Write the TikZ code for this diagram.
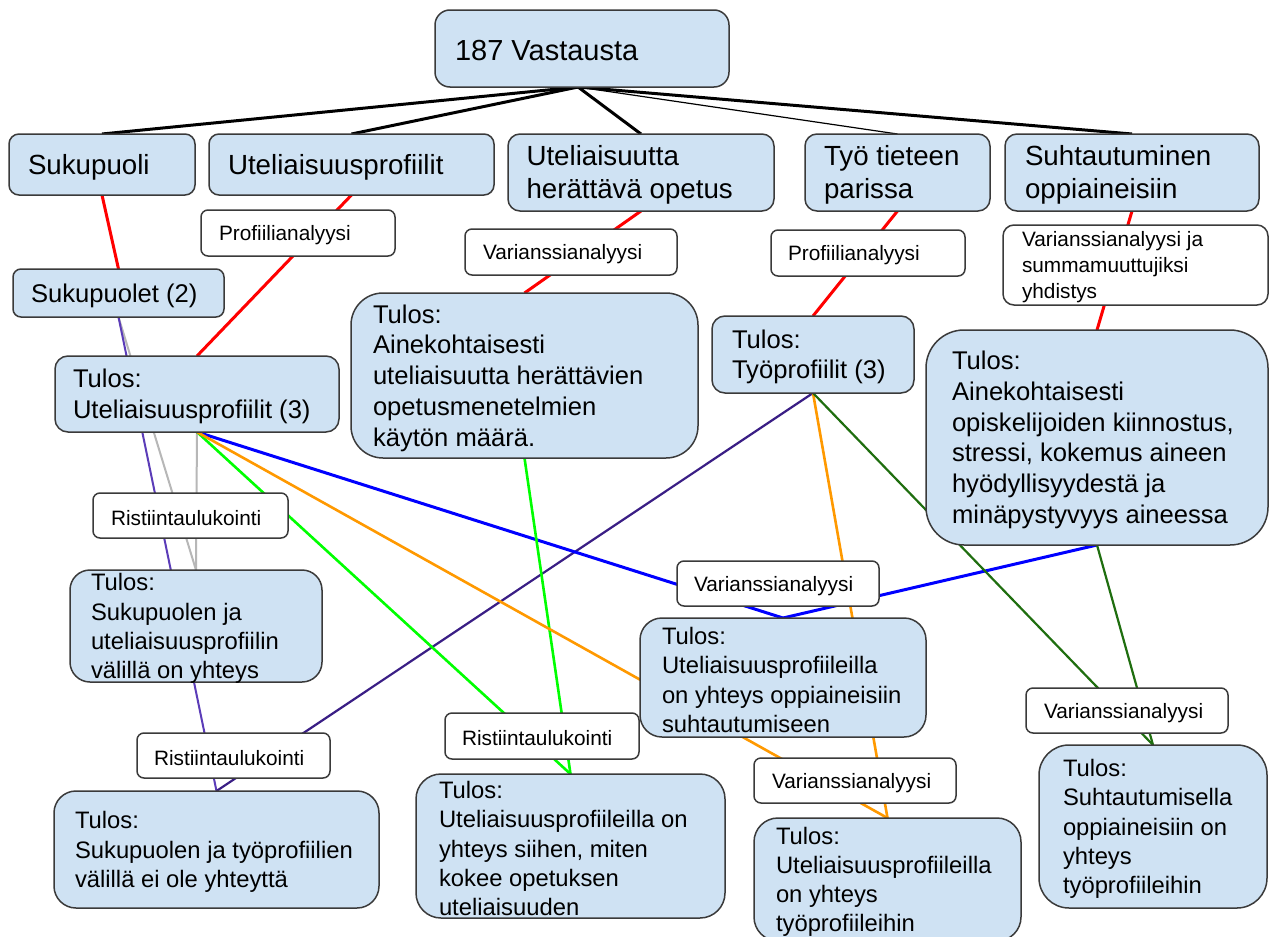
\documentclass[tikz,border=0pt]{standalone}
\usepackage{fontspec}
\setmainfont{Liberation Sans}
\usetikzlibrary{backgrounds}
\definecolor{boxblue}{HTML}{CFE2F3}
\definecolor{boxline}{HTML}{3A3A3A}
\definecolor{lnred}{HTML}{FF0000}
\definecolor{lnblue}{HTML}{0000FF}
\definecolor{lngreen}{HTML}{00FF00}
\definecolor{lnorange}{HTML}{FF9900}
\definecolor{lnpurple}{HTML}{5B3CB8}
\definecolor{lndpurple}{HTML}{3A1E85}
\definecolor{lndgreen}{HTML}{1F6E0F}
\definecolor{lngrey}{HTML}{B7B7B7}
\tikzset{
  bluebox/.style={draw=boxline, line width=1.5pt, fill=boxblue, inner sep=0pt, outer sep=0pt},
  whitebox/.style={draw=boxline, line width=1.5pt, fill=white, rounded corners=7pt, inner sep=0pt, outer sep=0pt},
  rootfont/.style={font=\fontsize{29}{35}\selectfont},
  topfont/.style={font=\fontsize{27.7}{33}\selectfont},
  resA/.style={font=\fontsize{25.6}{30.7}\selectfont},
  resB/.style={font=\fontsize{23.8}{29.2}\selectfont},
  labfont/.style={font=\fontsize{20.8}{26}\selectfont},
  txt/.style={anchor=west, align=left, inner sep=0pt, outer sep=0pt, text=black, yshift=-2.5pt},
  thickconn/.style={line width=3pt, black},
  thinconn/.style={line width=1.2pt, black},
  redconn/.style={line width=3pt, lnred},
  blueconn/.style={line width=3pt, lnblue},
  greenconn/.style={line width=2.6pt, lngreen},
  orangeconn/.style={line width=2.6pt, lnorange},
  purpleconn/.style={line width=2pt, lnpurple},
  dpurpleconn/.style={line width=2.2pt, lndpurple},
  dgreenconn/.style={line width=2.2pt, lndgreen},
  greyconn/.style={line width=2pt, lngrey},
}
\begin{document}
\begin{tikzpicture}[x=1pt, y=-1pt]
\useasboundingbox (0,0) rectangle (1269,937);

% ---- top level
\node[bluebox, rounded corners=15pt, minimum width=294pt, minimum height=77pt] (root) at (582,48.5) {};
\node[txt, rootfont] (troot) at ([xshift=20pt]root.west) {187 Vastausta};

\node[bluebox, rounded corners=10pt, minimum width=186pt, minimum height=61pt] (sukupuoli) at (102,164.5) {};
\node[txt, topfont] (tsukupuoli) at ([xshift=19pt]sukupuoli.west) {Sukupuoli};

\node[bluebox, rounded corners=10pt, minimum width=285pt, minimum height=61pt] (uprof) at (351.5,164.5) {};
\node[txt, topfont] (tuprof) at ([xshift=19pt]uprof.west) {Uteliaisuusprofiilit};

\node[bluebox, rounded corners=12pt, minimum width=266pt, minimum height=77pt] (opetus) at (641,172.5) {};
\node[txt, topfont] (topetus) at ([xshift=18.5pt]opetus.west) {Uteliaisuutta\\herättävä opetus};

\node[bluebox, rounded corners=12pt, minimum width=185pt, minimum height=77pt] (tyo) at (897.5,172.5) {};
\node[txt, topfont] (ttyo) at ([xshift=19pt]tyo.west) {Työ tieteen\\parissa};

\node[bluebox, rounded corners=12pt, minimum width=254pt, minimum height=77pt] (suht) at (1132,172.5) {};
\node[txt, topfont] (tsuht) at ([xshift=20pt]suht.west) {Suhtautuminen\\oppiaineisiin};

% ---- second level
\node[bluebox, rounded corners=8pt, minimum width=211pt, minimum height=48pt] (sukupuolet) at (118.5,293) {};
\node[txt, resA] (tsukupuolet) at ([xshift=18pt]sukupuolet.west) {Sukupuolet (2)};

\node[whitebox, minimum width=194pt, minimum height=46pt] (profL) at (298,233) {};
\node[txt, labfont] (tprofL) at ([xshift=18pt]profL.west) {Profiilianalyysi};

\node[whitebox, minimum width=212pt, minimum height=46pt] (varOp) at (571,252) {};
\node[txt, labfont] (tvarOp) at ([xshift=18pt]varOp.west) {Varianssianalyysi};

\node[whitebox, minimum width=194pt, minimum height=46pt] (profR) at (868,253) {};
\node[txt, labfont] (tprofR) at ([xshift=17pt]profR.west) {Profiilianalyysi};

\node[whitebox, rounded corners=11pt, minimum width=265pt, minimum height=80pt] (varSum) at (1135.5,265) {};
\node[txt, labfont] (tvarSum) at ([xshift=19pt]varSum.west) {Varianssianalyysi ja\\summamuuttujiksi\\yhdistys};

% ---- results upper
\node[bluebox, rounded corners=13pt, minimum width=284pt, minimum height=76pt] (tulosU) at (197,394) {};
\node[txt, resA] (ttulosU) at ([xshift=18pt]tulosU.west) {Tulos:\\Uteliaisuusprofiilit (3)};

\node[bluebox, rounded corners=32pt, minimum width=347pt, minimum height=165pt] (tulosOp) at (524.5,375.5) {};
\node[txt, resA] (ttulosOp) at ([xshift=22pt]tulosOp.west) {Tulos:\\Ainekohtaisesti\\uteliaisuutta herättävien\\opetusmenetelmien\\käytön määrä.};

\node[bluebox, rounded corners=13pt, minimum width=202pt, minimum height=77pt] (tyoprof) at (813,354.5) {};
\node[txt, resA] (ttyoprof) at ([xshift=20pt]tyoprof.west) {Tulos:\\Työprofiilit (3)};

\node[bluebox, rounded corners=38pt, minimum width=342pt, minimum height=215pt] (bigR) at (1097,437.5) {};
\node[txt, resA] (tbigR) at ([xshift=26pt]bigR.west) {Tulos:\\Ainekohtaisesti\\opiskelijoiden kiinnostus,\\stressi, kokemus aineen\\hyödyllisyydestä ja\\minäpystyvyys aineessa};

% ---- middle labels and results
\node[whitebox, minimum width=195pt, minimum height=45pt] (ristUL) at (190.5,515.5) {};
\node[txt, labfont] (tristUL) at ([xshift=18pt]ristUL.west) {Ristiintaulukointi};

\node[bluebox, rounded corners=20pt, minimum width=252pt, minimum height=112pt] (tulosSU) at (196,626) {};
\node[txt, resB] (ttulosSU) at ([xshift=21pt]tulosSU.west) {Tulos:\\Sukupuolen ja\\uteliaisuusprofiilin\\välillä on yhteys};

\node[whitebox, minimum width=202pt, minimum height=45pt] (varM) at (778,583.5) {};
\node[txt, labfont] (tvarM) at ([xshift=17pt]varM.west) {Varianssianalyysi};

\node[bluebox, rounded corners=22pt, minimum width=286pt, minimum height=119pt] (tulosOS) at (783,677.5) {};
\node[txt, resB] (ttulosOS) at ([xshift=22pt]tulosOS.west) {Tulos:\\Uteliaisuusprofiileilla\\on yhteys oppiaineisiin\\suhtautumiseen};

\node[whitebox, minimum width=193pt, minimum height=45pt] (ristL) at (233.5,755.5) {};
\node[txt, labfont] (tristL) at ([xshift=17pt]ristL.west) {Ristiintaulukointi};

\node[whitebox, minimum width=194pt, minimum height=46pt] (ristM) at (542,736) {};
\node[txt, labfont] (tristM) at ([xshift=17pt]ristM.west) {Ristiintaulukointi};

\node[whitebox, minimum width=202pt, minimum height=45pt] (varLM) at (855,780.5) {};
\node[txt, labfont] (tvarLM) at ([xshift=18pt]varLM.west) {Varianssianalyysi};

\node[whitebox, minimum width=202pt, minimum height=45pt] (varR) at (1127,710.5) {};
\node[txt, labfont] (tvarR) at ([xshift=18pt]varR.west) {Varianssianalyysi};

% ---- bottom results
\node[bluebox, rounded corners=22pt, minimum width=325pt, minimum height=117pt] (tulosST) at (216.5,849.5) {};
\node[txt, resB] (ttulosST) at ([xshift=21pt]tulosST.west) {Tulos:\\Sukupuolen ja työprofiilien\\välillä ei ole yhteyttä};

\node[bluebox, rounded corners=25pt, minimum width=309pt, minimum height=144pt] (tulosSi) at (570.5,846) {};
\node[txt, resB] (ttulosSi) at ([xshift=23pt]tulosSi.west) {Tulos:\\Uteliaisuusprofiileilla on\\yhteys siihen, miten\\kokee opetuksen\\uteliaisuuden};

\node[bluebox, rounded corners=24pt, minimum width=267pt, minimum height=123pt] (tulosTP) at (887.5,879.5) {};
\node[txt, resB] (ttulosTP) at ([xshift=22pt]tulosTP.west) {Tulos:\\Uteliaisuusprofiileilla\\on yhteys\\työprofiileihin};

\node[bluebox, rounded corners=30pt, minimum width=228pt, minimum height=163pt] (tulosSuh) at (1153,826.5) {};
\node[txt, resB] (ttulosSuh) at ([xshift=24pt]tulosSuh.west) {Tulos:\\Suhtautumisella\\oppiaineisiin on\\yhteys\\työprofiileihin};

% ---- connectors (behind the boxes)
\begin{pgfonlayer}{background}
\fill[white] (0,0) rectangle (1269,937);
\draw[thickconn] ([xshift=-4pt]root.south) -- (sukupuoli.north);
\draw[thickconn] ([xshift=-4pt]root.south) -- (uprof.north);
\draw[thickconn] ([xshift=-4pt]root.south) -- (opetus.north);
\draw[thinconn] ([xshift=-4pt]root.south) -- (tyo.north);
\draw[thickconn] ([xshift=-4pt]root.south) -- (suht.north);

\draw[redconn] (sukupuoli.south) -- (sukupuolet.north);
\draw[redconn] (uprof.south) -- (tulosU.north);
\draw[redconn] (opetus.south) -- (tulosOp.north);
\draw[redconn] (tyo.south) -- (tyoprof.north);
\draw[redconn] (suht.south) -- (bigR.north);

\draw[greyconn] (sukupuolet.south) -- (tulosSU.north);
\draw[greyconn] (tulosU.south) -- (tulosSU.north);
\draw[purpleconn] (sukupuolet.south) -- (tulosST.north);
\draw[dpurpleconn] (tyoprof.south) -- (tulosST.north);

\draw[blueconn] (tulosU.south) -- (tulosOS.north);
\draw[blueconn] (bigR.south) -- (tulosOS.north);
\draw[greenconn] (tulosU.south) -- (tulosSi.north);
\draw[greenconn] (tulosOp.south) -- (tulosSi.north);
\draw[orangeconn] (tulosU.south) -- (tulosTP.north);
\draw[orangeconn] (tyoprof.south) -- (tulosTP.north);
\draw[dgreenconn] (tyoprof.south) -- (tulosSuh.north);
\draw[dgreenconn] (bigR.south) -- (tulosSuh.north);
\end{pgfonlayer}
\end{tikzpicture}
\end{document}
